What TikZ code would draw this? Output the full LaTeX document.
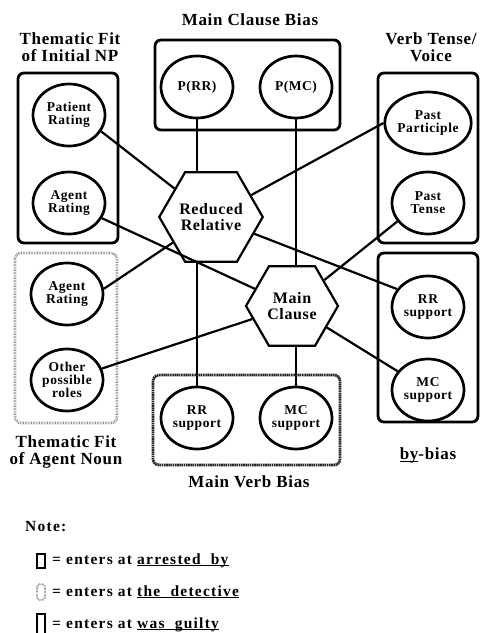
\documentclass[tikz,border=0pt]{standalone}
\usepackage{fontspec}
\setmainfont[LetterSpace=4]{Liberation Serif}
\newfontfamily\legendfont[LetterSpace=8]{Liberation Serif}
\usetikzlibrary{shapes.geometric,backgrounds}
% underline drawn just below the baseline, crossing the descenders
\newcommand\lowrule[1]{\underline{\smash{#1}}}

\begin{document}
\begin{tikzpicture}[x=1pt,y=-1pt,
  unit/.style={ellipse, draw, line width=2.7pt, minimum width=72pt,
    minimum height=62pt, inner sep=0pt, fill=white, align=center,
    font=\bfseries\fontsize{13.5}{13}\selectfont},
  hexnode/.style={regular polygon, regular polygon sides=6,
    minimum size=92pt, inner sep=0pt, draw, line width=2.2pt,
    fill=white, align=center, font=\bfseries\fontsize{16}{16}\selectfont},
  link/.style={line width=2.2pt},
  solidbox/.style={draw, line width=2.8pt, rounded corners=6pt},
  hatchbox/.style={draw=black!45, line width=2.6pt,
    dash pattern=on 0.7pt off 0.9pt, rounded corners=6pt},
  grainbox/.style={draw=black!85, line width=2.8pt,
    dash pattern=on 1.6pt off 0.6pt, rounded corners=6pt},
  title/.style={align=center, font=\bfseries\fontsize{17}{17}\selectfont},
  legend/.style={anchor=base west, inner sep=0pt,
    font=\legendfont\bfseries\fontsize{15.5}{15.5}\selectfont}
]
\useasboundingbox (0,0) rectangle (480,633);

% group boxes
\draw[solidbox] (18,73) rectangle (118,243);
\draw[hatchbox] (15,253) rectangle (117,423);
\draw[solidbox] (155,40) rectangle (340,130);
\draw[grainbox] (153,375) rectangle (340,465);
\draw[solidbox] (378,73) rectangle (478,243);
\draw[solidbox] (378,253) rectangle (478,422);

% group titles
\node[title] (tnp) at (70,47) {Thematic Fit\\of Initial NP};
\node[title] (tmcb) at (250,20) {Main Clause Bias};
\node[title] (tvt) at (431,47) {Verb Tense/\\Voice};
\node[title] (tan) at (66,452) {Thematic Fit\\of Agent Noun};
\node[title] (tmvb) at (249,482) {Main Verb Bias};
\node[title] (tby) at (428,455) {\lowrule{by}-bias};

% input units
\node[unit] (pat) at (69,115) {Patient\\Rating};
\node[unit] (agnp) at (69,203) {Agent\\Rating};
\node[unit] (agan) at (67,294) {Agent\\Rating};
\node[unit] (oth) at (67,380) {Other\\possible\\roles};
\node[unit] (prr) at (197,87) {P(RR)};
\node[unit] (pmc) at (296,87) {P(MC)};
\node[unit] (ppart) at (428,123) {Past\\Participle};
\node[unit] (ptense) at (428,203) {Past\\Tense};
\node[unit] (rrby) at (428,307) {RR\\support};
\node[unit] (mcby) at (428,390) {MC\\support};
\node[unit] (rrmv) at (197,418) {RR\\support};
\node[unit] (mcmv) at (296,418) {MC\\support};

% interpretation nodes
\node[hexnode] (rr) at (211,217) {Reduced\\Relative};
\node[hexnode] (mc) at (292,306) {Main\\Clause};

% connections
\begin{scope}[on background layer]
  \draw[link] (prr) -- (rrmv);
  \draw[link] (pmc) -- (mcmv);
\end{scope}
\draw[link] (pat.-27) -- (rr);
\draw[link] (agan.8) -- (rr);
\draw[link] (ppart.west) -- (rr);
\draw[link] (rrby.150) -- (rr);
\draw[link] (agnp) -- (mc);
\draw[link] (oth) -- (mc);
\draw[link] (ptense.211) -- (mc);
\draw[link] (mcby) -- (mc);

% legend
\node[legend] (note) at (25,531) {Note:};
\draw[line width=1.8pt] (37,554) rectangle (45,568);
\node[legend] (l1) at (52,564) {= enters at \lowrule{arrested\ \ by}};
\draw[draw=black!45, line width=1.8pt, dash pattern=on 0.6pt off 0.8pt,
  rounded corners=3pt] (37,584) rectangle (45,600);
\node[legend] (l2) at (52,596) {= enters at \lowrule{the\ \ detective}};
\draw[line width=1.8pt] (37,614) rectangle (45,640);
\node[legend] (l3) at (52,628) {= enters at \lowrule{was\ \ guilty}};
\end{tikzpicture}
\end{document}
